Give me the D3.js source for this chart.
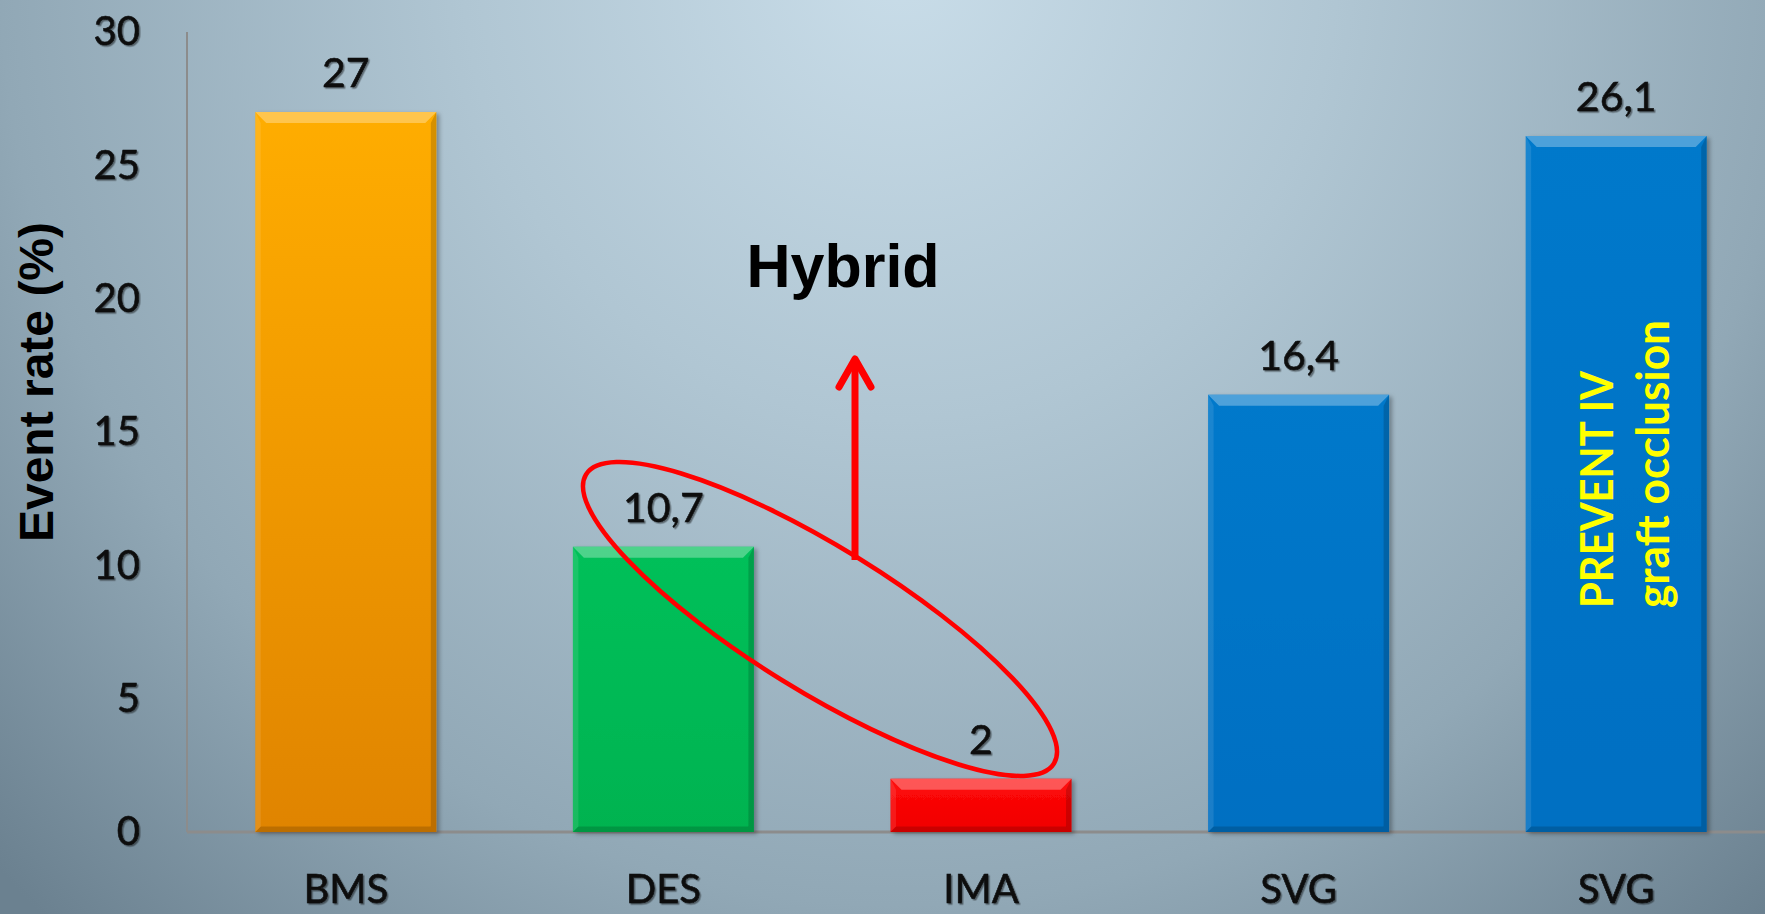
<!DOCTYPE html>
<html>
<head>
<meta charset="utf-8">
<script src="https://cdn.jsdelivr.net/npm/d3@7"></script>
<style>
  html, body { margin: 0; padding: 0; overflow: hidden; }
  svg { display: block; }
</style>
</head>
<body>
<div id="chart"></div>
<script>
// chart data
const categories = ['BMS', 'DES', 'IMA', 'SVG', 'SVG'];
const values = [27, 10.7, 2, 16.4, 26.1];
const valueLabels = ['27', '10,7', '2', '16,4', '26,1'];
const yTicks = [0, 5, 10, 15, 20, 25, 30];

// top / bottom colours of each bar
const barTop = ['#ffad06', '#06c05a', '#ff0a0a', '#0679cb', '#0679cb'];
const barBottom = ['#e08400', '#05b350', '#f00000', '#056fc2', '#056fc2'];

const W = 1765, H = 914;

const svg = d3.select('#chart').append('svg')
    .attr('width', W)
    .attr('height', H);

const defs = svg.append('defs');

// background
const bg = defs.append('radialGradient')
    .attr('id', 'bg')
    .attr('gradientUnits', 'userSpaceOnUse')
    .attr('cx', 900).attr('cy', -40)
    .attr('r', 1250)
    .attr('gradientTransform', 'translate(900,-40) scale(1,1.05) translate(-900,40)');
bg.append('stop').attr('offset', 0).attr('stop-color', '#c9dde9');
bg.append('stop').attr('offset', 0.35).attr('stop-color', '#b0c6d3');
bg.append('stop').attr('offset', 0.72).attr('stop-color', '#91a8b6');
bg.append('stop').attr('offset', 1).attr('stop-color', '#6b8190');

svg.append('rect')
    .attr('width', W).attr('height', H)
    .attr('fill', 'url(#bg)');

const shadow = defs.append('filter').attr('id', 'txtShadow')
    .attr('x', '-10%').attr('y', '-10%').attr('width', '130%').attr('height', '130%');
shadow.append('feDropShadow')
    .attr('dx', 1.5).attr('dy', 1.5).attr('stdDeviation', 0.7)
    .attr('flood-color', '#000').attr('flood-opacity', 0.45);

const barShadow = defs.append('filter').attr('id', 'barShadow')
    .attr('x', '-10%').attr('y', '-10%').attr('width', '130%').attr('height', '130%');
barShadow.append('feDropShadow')
    .attr('dx', 3).attr('dy', 2).attr('stdDeviation', 2)
    .attr('flood-color', '#000').attr('flood-opacity', 0.3);

barTop.forEach((c, i) => {
    const g = defs.append('linearGradient')
        .attr('id', 'bar' + i)
        .attr('x1', 0).attr('y1', 0).attr('x2', 0).attr('y2', 1);
    g.append('stop').attr('offset', 0).attr('stop-color', c);
    g.append('stop').attr('offset', 1).attr('stop-color', barBottom[i]);
});

// scales
const x = d3.scaleBand()
    .domain(d3.range(categories.length))
    .range([187, 1775])
    .paddingInner(0.43)
    .paddingOuter(0.215);

const y = d3.scaleLinear()
    .domain([0, 30])
    .range([832, 32]);

// axes lines
svg.append('line')
    .attr('x1', 187).attr('x2', 187)
    .attr('y1', y(30)).attr('y2', y(0))
    .attr('stroke', '#8c8c8c').attr('stroke-width', 2);

svg.append('line')
    .attr('x1', 187).attr('x2', W)
    .attr('y1', y(0)).attr('y2', y(0))
    .attr('stroke', '#8c8c8c').attr('stroke-width', 3);

const textFont = 'Lato, "Open Sans", sans-serif';

// y axis
const yAxis = svg.append('g')
    .attr('transform', 'translate(140,0)')
    .call(d3.axisLeft(y).tickValues(yTicks).tickSize(0).tickPadding(0));
yAxis.select('.domain').remove();
yAxis.selectAll('text')
    .attr('font-family', textFont)
    .attr('font-size', 40)
    .attr('fill', '#0a0a0a')
    .attr('stroke', '#0a0a0a')
    .attr('stroke-width', 0.5)
    .attr('filter', 'url(#txtShadow)');

// x axis
const xAxis = svg.append('g')
    .attr('transform', `translate(0,${y(0)})`)
    .call(d3.axisBottom(x).tickFormat(i => categories[i]).tickSize(0).tickPadding(0));
xAxis.select('.domain').remove();
xAxis.selectAll('text')
    .attr('dy', 0)
    .attr('y', 71)
    .attr('font-family', textFont)
    .attr('font-size', 40)
    .attr('fill', '#0a0a0a')
    .attr('stroke', '#0a0a0a')
    .attr('stroke-width', 0.5)
    .attr('filter', 'url(#txtShadow)');

// bars
const bw = x.bandwidth();
const bev = 11;

const bars = svg.selectAll('g.bar')
    .data(values)
    .enter()
    .append('g')
    .attr('class', 'bar');

bars.append('rect')
    .attr('x', (d, i) => x(i))
    .attr('y', d => y(d))
    .attr('width', bw)
    .attr('height', d => y(0) - y(d))
    .attr('fill', (d, i) => `url(#bar${i})`)
    .attr('filter', 'url(#barShadow)');

// bevel: top light, right/bottom dark, left slight light
bars.append('polygon')
    .attr('points', (d, i) => {
        const x0 = x(i), x1 = x(i) + bw, t = y(d);
        return [[x0, t], [x1, t], [x1 - bev, t + bev], [x0 + bev, t + bev]].join(' ');
    })
    .attr('fill', '#fff')
    .attr('opacity', 0.3);

bars.append('polygon')
    .attr('points', (d, i) => {
        const x0 = x(i), t = y(d), b = y(0);
        return [[x0, t], [x0 + bev * 0.5, t + bev], [x0 + bev * 0.5, b - bev * 0.5], [x0, b]].join(' ');
    })
    .attr('fill', '#fff')
    .attr('opacity', 0.1);

bars.append('polygon')
    .attr('points', (d, i) => {
        const x1 = x(i) + bw, t = y(d), b = y(0);
        return [[x1, t], [x1, b], [x1 - bev * 0.5, b - bev * 0.5], [x1 - bev * 0.5, t + bev]].join(' ');
    })
    .attr('fill', '#000')
    .attr('opacity', 0.16);

bars.append('polygon')
    .attr('points', (d, i) => {
        const x0 = x(i), x1 = x(i) + bw, b = y(0);
        return [[x0, b], [x1, b], [x1 - bev * 0.5, b - bev * 0.5], [x0 + bev * 0.5, b - bev * 0.5]].join(' ');
    })
    .attr('fill', '#000')
    .attr('opacity', 0.16);

// value labels
bars.append('text')
    .attr('x', (d, i) => x(i) + bw / 2)
    .attr('y', d => y(d) - 25)
    .attr('text-anchor', 'middle')
    .attr('font-family', textFont)
    .attr('font-size', 41)
    .attr('fill', '#0a0a0a')
    .attr('stroke', '#0a0a0a')
    .attr('stroke-width', 0.5)
    .attr('filter', 'url(#txtShadow)')
    .text((d, i) => valueLabels[i]);

// y title
svg.append('text')
    .attr('transform', 'translate(53,382) rotate(-90)')
    .attr('text-anchor', 'middle')
    .attr('font-family', '"Liberation Sans", Arial, sans-serif')
    .attr('font-weight', 'bold')
    .attr('font-size', 48)
    .attr('fill', '#000')
    .text('Event rate (%)');

// annotation inside last bar
const lastX = x(4) + bw / 2;
const inBar = svg.append('g')
    .attr('font-family', textFont)
    .attr('font-weight', 'bold')
    .attr('font-size', 46)
    .attr('fill', '#ffff00');
inBar.append('text')
    .attr('transform', `translate(${lastX - 3},608) rotate(-90)`)
    .attr('textLength', 237)
    .attr('lengthAdjust', 'spacingAndGlyphs')
    .text('PREVENT IV');
inBar.append('text')
    .attr('transform', `translate(${lastX + 53},608) rotate(-90)`)
    .attr('textLength', 288)
    .attr('lengthAdjust', 'spacingAndGlyphs')
    .text('graft occlusion');

// hybrid ellipse + arrow
svg.append('ellipse')
    .attr('transform', 'translate(820,619) rotate(31.7)')
    .attr('rx', 275)
    .attr('ry', 72)
    .attr('fill', 'none')
    .attr('stroke', '#ff0000')
    .attr('stroke-width', 4.5);

svg.append('line')
    .attr('x1', 855).attr('y1', 560)
    .attr('x2', 855).attr('y2', 362)
    .attr('stroke', '#ff0000')
    .attr('stroke-width', 7);

svg.append('polyline')
    .attr('points', '839,387 855,359 871,387')
    .attr('fill', 'none')
    .attr('stroke', '#ff0000')
    .attr('stroke-width', 7)
    .attr('stroke-linecap', 'round')
    .attr('stroke-linejoin', 'round');

svg.append('text')
    .attr('x', 843)
    .attr('y', 287)
    .attr('text-anchor', 'middle')
    .attr('font-family', '"Liberation Sans", Arial, sans-serif')
    .attr('font-weight', 'bold')
    .attr('font-size', 61)
    .attr('fill', '#000')
    .text('Hybrid');
</script>
</body>
</html>
